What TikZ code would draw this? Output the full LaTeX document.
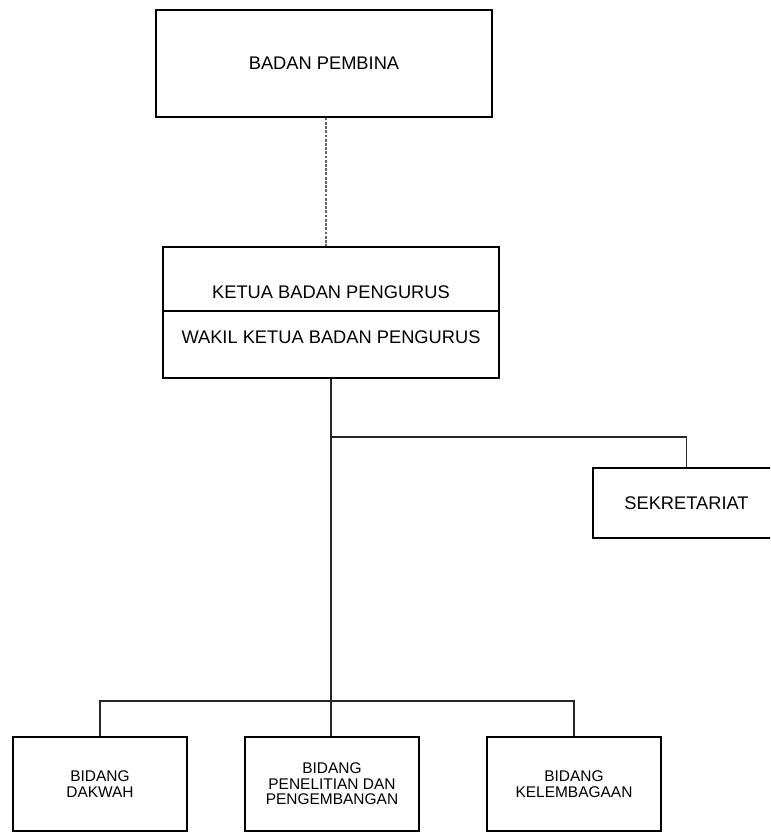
\documentclass[tikz,border=0pt]{standalone}
\usepackage{fontspec}
\setmainfont{Liberation Sans}
\usetikzlibrary{positioning}

\begin{document}
\begin{tikzpicture}[x=0.025cm,y=-0.025cm,line width=0.9pt,
box/.style={draw,inner sep=0pt,align=center,font=\fontsize{13}{15}\selectfont},
bid/.style={draw,inner sep=0pt,align=center,minimum width=4.35cm,minimum height=2.35cm,font=\fontsize{11}{11}\selectfont},
ln/.style={draw=black!85},dl/.style={draw=black!60,line width=1.2pt,dash pattern=on 2pt off 1pt}]
\clip (0,0) rectangle (770,832);
\node[box,minimum width=8.4cm,minimum height=2.675cm] (pembina) at (324,63.5) {BADAN PEMBINA};
\node[box,minimum width=8.4cm,minimum height=1.6cm,text height=28pt,text depth=0pt] (ketua) at (331,279) {KETUA BADAN PENGURUS};
\node[box,minimum width=8.4cm,minimum height=1.675cm,text height=9.5pt,text depth=10.6pt] (wakil) at (331,344.5) {WAKIL KETUA BADAN PENGURUS};
\node[box,minimum width=4.675cm,minimum height=1.75cm] (sekr) at (686.5,503) {SEKRETARIAT};
\node[bid] (dakwah) at (100,784) {BIDANG\\DAKWAH};
\node[bid] (litbang) at (332,784) {BIDANG\\PENELITIAN DAN\\PENGEMBANGAN};
\node[bid] (lembaga) at (574,784) {BIDANG\\KELEMBAGAAN};
\coordinate (j1) at (331,437);
\coordinate (j2) at (331,701);
% garis komando
\draw[dl] ([xshift=0.05cm]pembina.south) -- ([xshift=0.05cm]pembina.south |- ketua.north);
\draw[ln] (wakil.south) -- (j2);
\draw[ln] (j1) -| (sekr.north);
\draw[ln] (dakwah.north) |- (j2) -| (lembaga.north);
\draw[ln] (j2) -- (j2 |- litbang.north);
\end{tikzpicture}
\end{document}
